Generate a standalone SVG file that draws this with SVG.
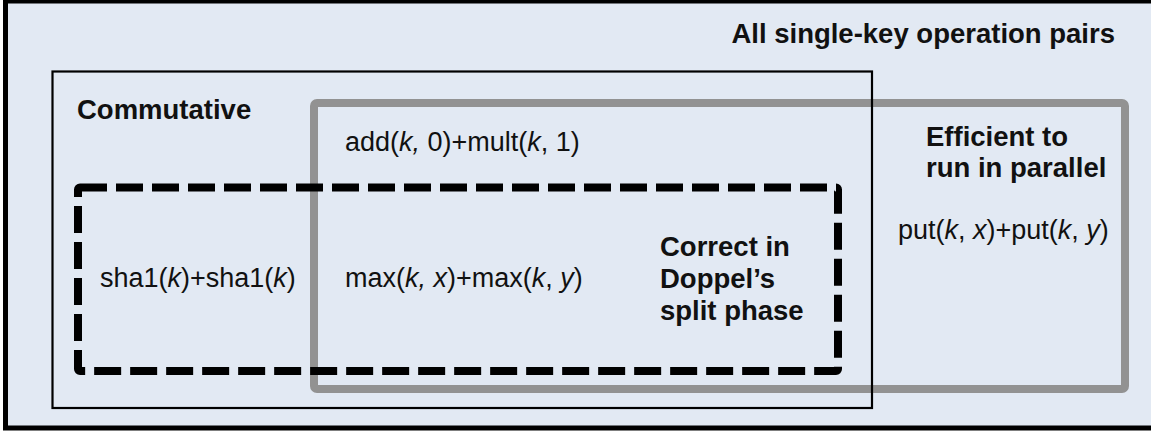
<svg xmlns="http://www.w3.org/2000/svg" width="1151" height="431" viewBox="0 0 1151 431">
  <style>
    .b { font-family: "Liberation Sans", Arial, sans-serif; font-weight: bold; font-size: 27.5px; fill: #111; }
    .r { font-family: "Liberation Sans", Arial, sans-serif; font-size: 27px; fill: #111; }
    .i { font-style: italic; }
    .frame { fill: #e2e9f3; stroke: #000; stroke-width: 5; }
    .comm { fill: none; stroke: #000; stroke-width: 2.2; }
    .eff { fill: none; stroke: #929292; stroke-width: 8; }
    .split { fill: none; stroke: #000; stroke-width: 8; stroke-dasharray: 27 9; stroke-linejoin: round; }
  </style>

  <!-- universe: all single-key operation pairs -->
  <g id="all-pairs">
    <rect class="frame" x="5.5" y="1" width="1160" height="427"/>
    <text class="b" x="1115" y="43" text-anchor="end">All single-key operation pairs</text>
  </g>

  <!-- efficient-to-run-in-parallel set -->
  <g id="efficient">
    <rect class="eff" x="314" y="103" width="811" height="286" rx="3"/>
    <text class="b" x="926" y="146">Efficient to</text>
    <text class="b" x="926" y="177">run in parallel</text>
    <text class="r" x="898" y="239">put(<tspan class="i">k</tspan>, <tspan class="i">x</tspan>)+put(<tspan class="i">k</tspan>, <tspan class="i">y</tspan>)</text>
  </g>

  <!-- commutative set -->
  <g id="commutative">
    <rect class="comm" x="52.5" y="71.5" width="819.5" height="336.5"/>
    <text class="b" x="77" y="119">Commutative</text>
    <text class="r" x="345" y="151">add(<tspan class="i">k,</tspan> 0)+mult(<tspan class="i">k</tspan>, 1)</text>
  </g>

  <!-- correct in Doppel's split phase -->
  <g id="split-phase">
    <rect class="split" x="78" y="187.5" width="760" height="183.5" rx="2"/>
    <text class="r" x="100" y="287">sha1(<tspan class="i">k</tspan>)+sha1(<tspan class="i">k</tspan>)</text>
    <text class="r" x="345" y="287">max(<tspan class="i">k, x</tspan>)+max(<tspan class="i">k</tspan>, <tspan class="i">y</tspan>)</text>
    <text class="b" x="660" y="256">Correct in</text>
    <text class="b" x="660" y="288">Doppel’s</text>
    <text class="b" x="660" y="320">split phase</text>
  </g>
</svg>
